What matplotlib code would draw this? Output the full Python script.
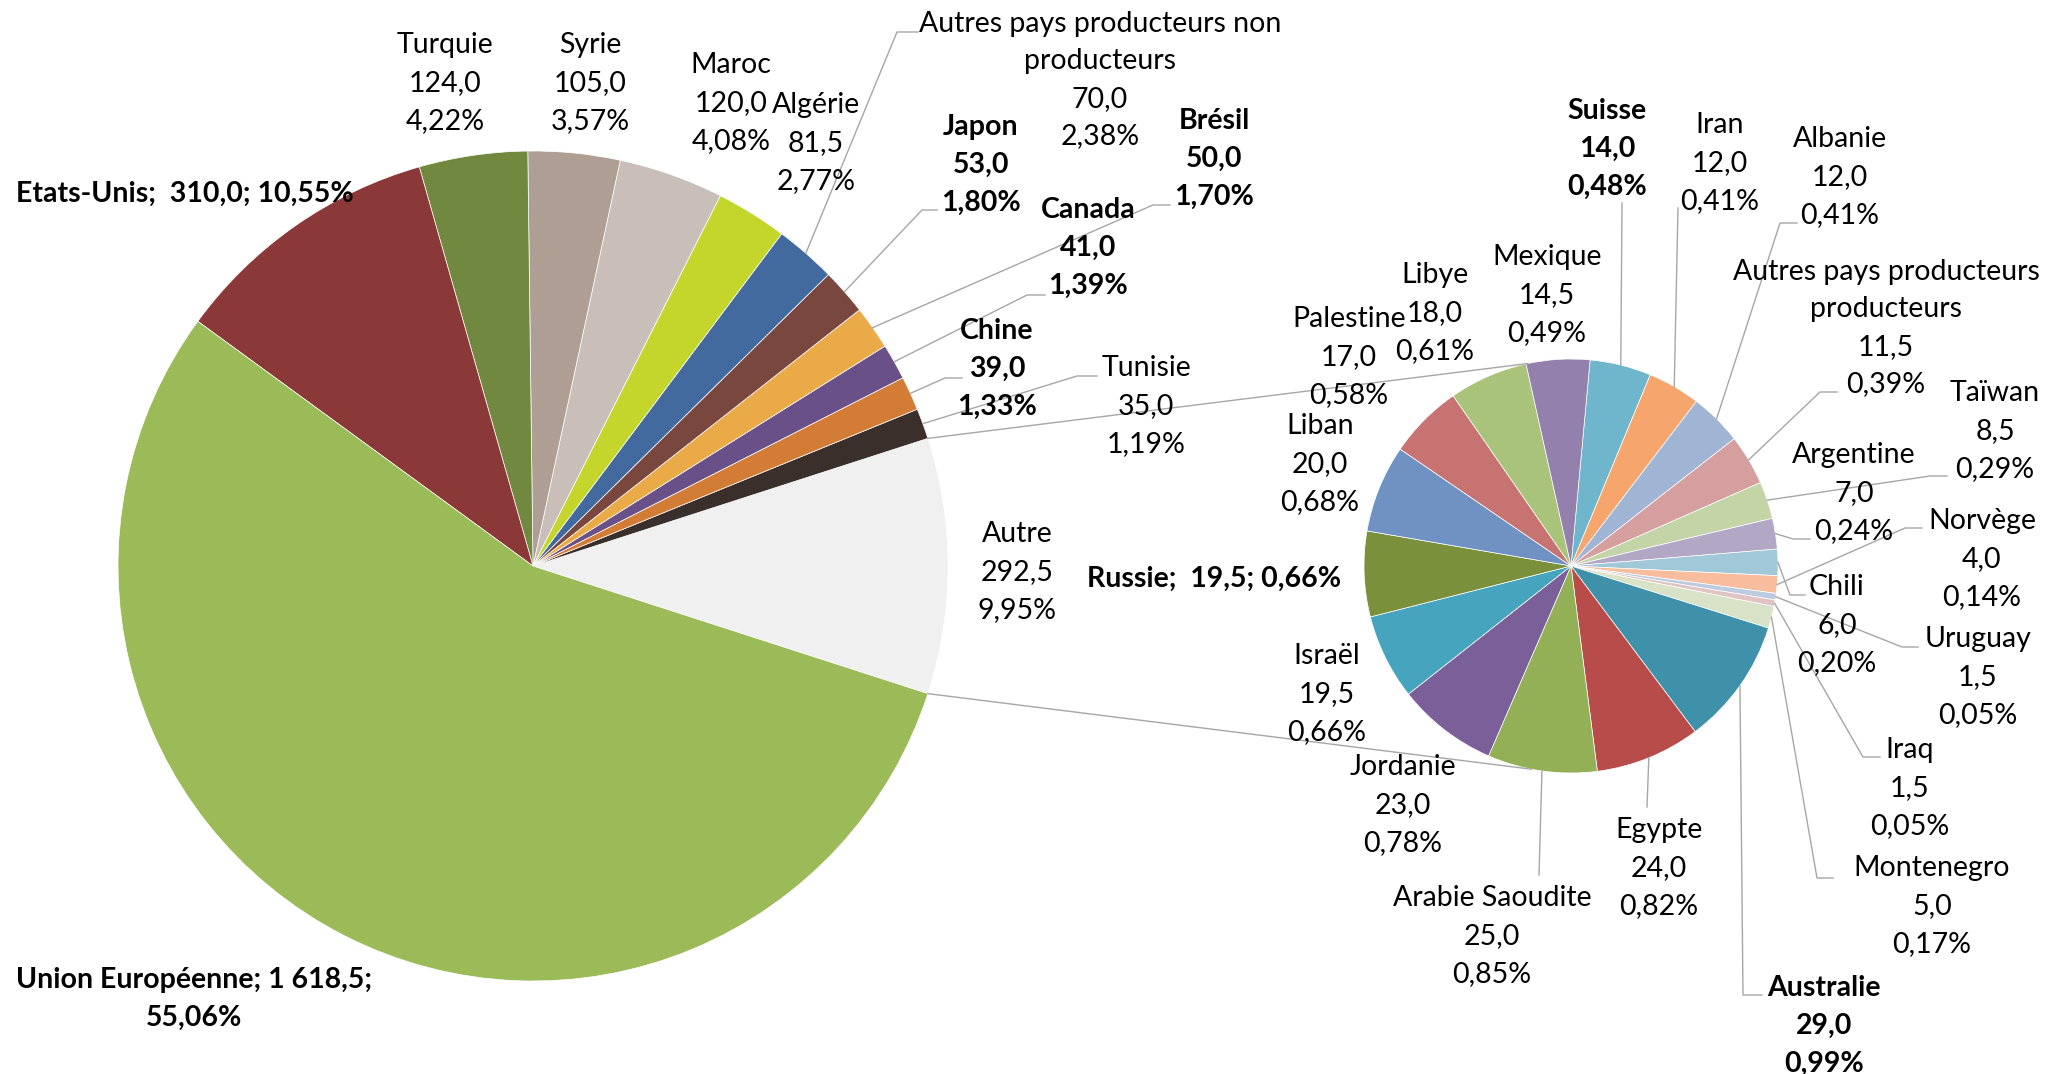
import matplotlib.pyplot as plt
import numpy as np

plt.rcParams['font.family'] = ['Lato', 'DejaVu Sans']

# --- données : graphique principal (ordre d'affichage, sens anti-horaire depuis "Autre")
main_names = ["Autre", "Tunisie", "Chine", "Canada", "Brésil", "Japon",
              "Autres pays producteurs non\nproducteurs", "Algérie", "Maroc",
              "Syrie", "Turquie", "Etats-Unis", "Union Européenne"]
main_values = [292.5, 35.0, 39.0, 41.0, 50.0, 53.0, 70.0, 81.5, 120.0,
               105.0, 124.0, 310.0, 1618.5]
main_colors = ["#F0F0F0", "#3A2F2B", "#D37C36", "#6A5089", "#EBAA48", "#79473D",
               "#426A9E", "#C4D52B", "#C9BEB8", "#AE9E93", "#70893E", "#8B3838",
               "#9BBB59"]

# --- données : détail de "Autre" (sens horaire depuis Suisse)
sec_names = ["Suisse", "Iran", "Albanie", "Autres pays producteurs\nproducteurs",
             "Taïwan", "Argentine", "Chili", "Norvège", "Uruguay", "Iraq",
             "Montenegro", "Australie", "Egypte", "Arabie Saoudite", "Jordanie",
             "Israël", "Russie", "Liban", "Palestine", "Libye", "Mexique"]
sec_values = [14.0, 12.0, 12.0, 11.5, 8.5, 7.0, 6.0, 4.0, 1.5, 1.5, 5.0,
              29.0, 24.0, 25.0, 23.0, 19.5, 19.5, 20.0, 17.0, 18.0, 14.5]
sec_colors = ["#6FB6CC", "#F6A66C", "#A0B4D3", "#D59E9F", "#C3D4A6", "#B2A8C6",
              "#A0C8D8", "#F8BD9C", "#BCCCE0", "#E0C3C3", "#D8E2C7", "#3E91A9",
              "#B84C4A", "#94B056", "#7A5F98", "#46A4BE", "#7A903A", "#7092C3",
              "#C67372", "#A9C37B", "#9480AD"]

bold = {"Etats-Unis", "Union Européenne", "Japon", "Brésil", "Canada", "Chine",
        "Suisse", "Russie", "Australie"}

W, H = 2065, 1074
total = sum(main_values)


def num(v):
    return "{:,.1f}".format(v).replace(",", " ").replace(".", ",")


def pct(v):
    return "{:.2f}".format(v / total * 100).replace(".", ",") + "%"


def label_text(name, v):
    if name == "Etats-Unis" or name == "Russie":
        return f"{name};  {num(v)}; {pct(v)}"
    if name == "Union Européenne":
        return f"{name}; {num(v)};\n{pct(v)}"
    return f"{name}\n{num(v)}\n{pct(v)}"


# positions des étiquettes (coordonnées image) et points de coude des lignes de rappel
main_pos = {
    "Autre": (1017, 569), "Tunisie": (1146, 403), "Chine": (997, 366),
    "Canada": (1088, 245), "Brésil": (1214, 156), "Japon": (981, 162),
    "Autres pays producteurs non\nproducteurs": (1100, 77), "Algérie": (816, 140),
    "Maroc": (731, 100), "Syrie": (590, 80), "Turquie": (445, 80),
    "Etats-Unis": (16, 191), "Union Européenne": (194, 996),
}
main_leads = {
    "Autres pays producteurs non\nproducteurs": [(918, 32), (897, 32)],
    "Japon": [(937, 210), (922, 210)], "Brésil": [(1170, 205), (1153, 205)],
    "Canada": [(1045, 295), (1027, 295)], "Chine": [(962, 378), (945, 378)],
    "Tunisie": [(1097, 376), (1077, 376)],
}
sec_pos = {
    "Suisse": (1607, 146), "Iran": (1720, 160), "Albanie": (1840, 174),
    "Autres pays producteurs\nproducteurs": (1886, 325), "Taïwan": (1995, 428),
    "Argentine": (1854, 490), "Norvège": (1982, 556), "Chili": (1837, 622),
    "Uruguay": (1978, 674), "Iraq": (1910, 785), "Montenegro": (1932, 903),
    "Australie": (1824, 1023), "Egypte": (1659, 865), "Arabie Saoudite": (1492, 933),
    "Jordanie": (1403, 802), "Israël": (1327, 691), "Russie": (1214, 576),
    "Liban": (1320, 461), "Palestine": (1349, 354), "Libye": (1435, 310),
    "Mexique": (1547, 292),
}
sec_leads = {
    "Suisse": [(1622, 203)], "Iran": [(1678, 208)],
    "Albanie": [(1797, 223), (1780, 223)],
    "Autres pays producteurs\nproducteurs": [(1837, 392), (1820, 392)],
    "Taïwan": [(1947, 476), (1930, 476)], "Argentine": [(1810, 539), (1793, 539)],
    "Norvège": [(1922, 528), (1905, 528)], "Chili": [(1805, 595), (1790, 595)],
    "Uruguay": [(1918, 647), (1902, 647)], "Iraq": [(1880, 757), (1863, 757)],
    "Montenegro": [(1833, 878), (1817, 878)], "Australie": [(1762, 995), (1743, 995)],
    "Egypte": [(1647, 807)], "Arabie Saoudite": [(1539, 875)],
}

main_c, main_r = (533, 566), 415
sec_c, sec_r = (1571, 566), 207
lead_col = "#A6A6A6"
line_h = 37.6  # interligne des étiquettes, en pixels
y_shift = 3    # petit décalage vertical du texte

fig = plt.figure(figsize=(20.65, 10.74), dpi=100)
ax = fig.add_axes([0, 0, 1, 1])

start = -main_values[0] / total * 360 / 2
w1, _ = ax.pie(main_values, colors=main_colors, startangle=start, counterclock=True,
               center=(main_c[0], H - main_c[1]), radius=main_r,
               wedgeprops=dict(linewidth=0.5, edgecolor="white"))
w2, _ = ax.pie(sec_values, colors=sec_colors, startangle=84.7, counterclock=False,
               center=(sec_c[0], H - sec_c[1]), radius=sec_r,
               wedgeprops=dict(linewidth=0.5, edgecolor="white"))

ax.set_xlim(0, W)
ax.set_ylim(0, H)
ax.set_aspect("equal")
ax.axis("off")


def draw_labels(wedges, names, values, pos, leads, c, r):
    for wdg, name, v in zip(wedges, names, values):
        x, y = pos[name]
        ha = "left" if name == "Etats-Unis" else "center"
        lines = label_text(name, v).split("\n")
        for i, s in enumerate(lines):
            yy = y + y_shift + (i - (len(lines) - 1) / 2) * line_h
            ax.text(x, H - yy, s, ha=ha, va="center", fontsize=20.5,
                    fontweight="bold" if name in bold else "normal",
                    color="black", zorder=5)
        if name in leads:
            mid = np.deg2rad((wdg.theta1 + wdg.theta2) / 2)
            pts = [(px, H - py) for px, py in leads[name]]
            pts.append((c[0] + r * np.cos(mid), H - c[1] + r * np.sin(mid)))
            xs, ys = zip(*pts)
            ax.plot(xs, ys, color=lead_col, lw=1.0, zorder=3)


draw_labels(w1, main_names, main_values, main_pos, main_leads, main_c, main_r)
draw_labels(w2, sec_names, sec_values, sec_pos, sec_leads, sec_c, sec_r)

# lignes reliant la part "Autre" au second camembert
a = w1[0]
for th_main, th_sec in [(a.theta2, 102.0), (a.theta1, 259.0)]:
    t1, t2 = np.deg2rad(th_main), np.deg2rad(th_sec)
    ax.plot([main_c[0] + main_r * np.cos(t1), sec_c[0] + sec_r * np.cos(t2)],
            [H - main_c[1] + main_r * np.sin(t1), H - sec_c[1] + sec_r * np.sin(t2)],
            color=lead_col, lw=1.0, zorder=1)

fig.savefig("out.png", dpi=100, facecolor="white")
